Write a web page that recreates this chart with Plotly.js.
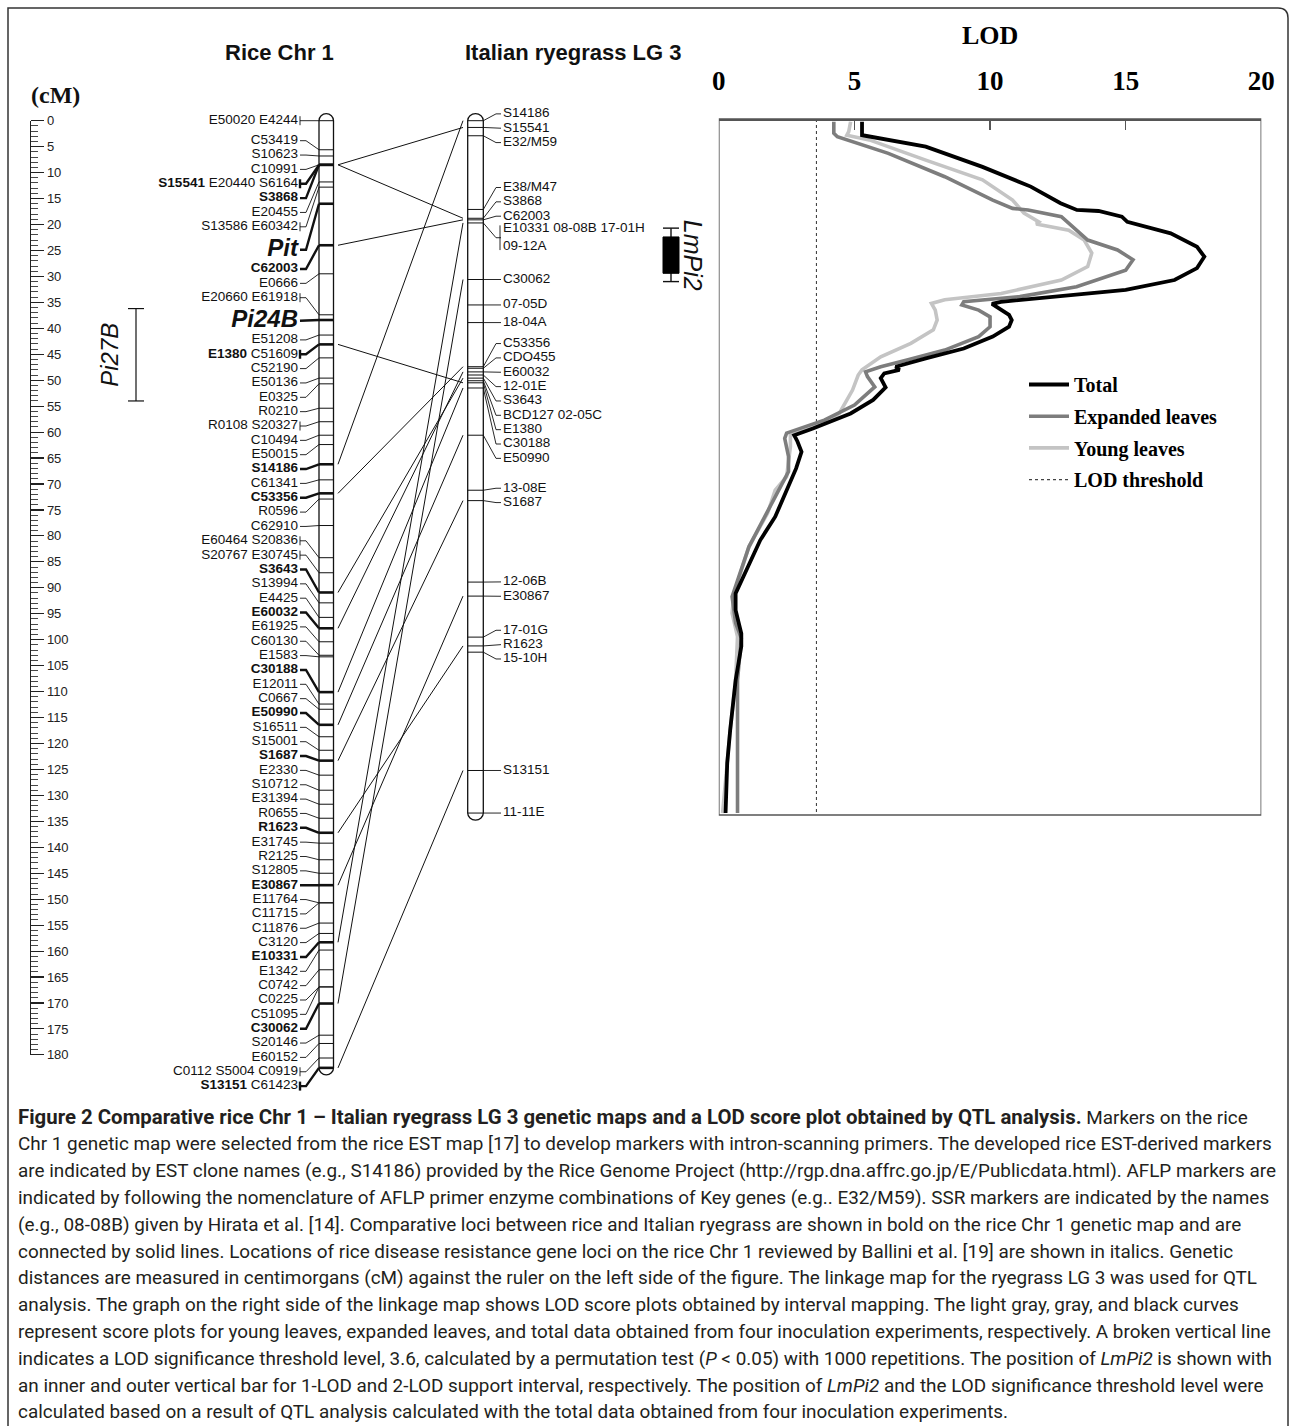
<!DOCTYPE html>
<html><head><meta charset="utf-8">
<script src="https://cdn.plot.ly/plotly-3.0.1.min.js"></script>
<style>html,body{margin:0;padding:0;background:#fff}</style>
</head><body><div id="chart" style="width:1290px;height:1426px"></div>
<script>
// ================= DATA =================
// Rice Chr 1 map: label rows (top to bottom) and marker positions (cM)
const riceLabels = ['E50020 E4244','C53419','S10623','C10991','S15541 E20440 S6164','S3868','E20455','S13586 E60342','Pit','C62003','E0666','E20660 E61918','Pi24B','E51208','E1380 C51609','C52190','E50136','E0325','R0210','R0108 S20327','C10494','E50015','S14186','C61341','C53356','R0596','C62910','E60464 S20836','S20767 E30745','S3643','S13994','E4425','E60032','E61925','C60130','E1583','C30188','E12011','C0667','E50990','S16511','S15001','S1687','E2330','S10712','E31394','R0655','R1623','E31745','R2125','S12805','E30867','E11764','C11715','C11876','C3120','E10331','E1342','C0742','C0225','C51095','C30062','S20146','E60152','C0112 S5004 C0919','S13151 C61423'];
const riceCM = [0,5.6,6.8,8.5,8.5,8.5,11.8,12.8,16.0,24.0,29.5,37.4,38.4,41.3,43.1,45.7,49.6,50.7,55.4,58.0,60.6,62.4,66.2,69.2,71.8,72.9,78.0,84.2,87.1,90.9,92.9,95.7,97.8,100.4,103.0,103.3,110.1,112.4,113.4,116.4,118.7,121.3,123.3,126.1,129.0,131.7,134.4,137.2,139.2,142.4,145.0,147.3,150.7,150.7,154.6,156.6,158.3,159.8,163.6,166.9,166.9,170.1,176.2,177.8,180.6,182.5];
const riceGenes = ['Pit','Pi24B'];
// Italian ryegrass LG 3 map
const ryeLabels = ['S14186','S15541','E32/M59','E38/M47','S3868','C62003','E10331 08-08B 17-01H 09-12A','C30062','07-05D','18-04A','C53356','CDO455','E60032','12-01E','S3643','BCD127 02-05C','E1380','C30188','E50990','13-08E','S1687','12-06B','E30867','17-01G','R1623','15-10H','S13151','11-11E'];
const ryeCM = [0,1.3,2.9,17.1,18.8,19.1,19.7,30.6,35.5,38.9,47.4,47.7,48.4,49.0,49.6,50.1,50.5,51.5,60.6,71.2,73.2,88.9,91.6,99.5,101.2,102.4,125.2,133.4];
// comparative loci (bold on rice map, joined by lines)
const compNames = ['S15541','S3868','C62003','E1380','S14186','C53356','S3643','E60032','C30188','E50990','S1687','R1623','E30867','E10331','C30062','S13151'];
// intervals (cM)
const pi27bCM = [36.2, 54.0];
const lmpi2Outer = [20.7, 31.0];
const lmpi2Inner = [22.4, 29.4];
// LOD curves (position cM on LG 3, LOD)
const totalPos = [0.2,2.8,2.9,5.0,8.9,12.7,15.9,16.9,17.2,17.4,18.5,19.5,19.8,21.7,24.3,26.2,28.4,30.7,32.6,33.9,34.9,35.3,36.1,37.4,38.4,39.7,41.6,43.9,45.8,47.4,48.0,48.7,49.6,51.4,53.8,56.4,59.3,60.6,61.8,63.8,67.0,71.2,76.3,80.8,87.2,91.1,94.3,98.8,101.3,107.8,117.4,123.8,133.4];
const totalLod = [5.28,5.28,5.4,7.63,9.72,11.5,12.6,13.1,13.2,14.0,14.86,15.06,15.27,16.66,17.63,17.9,17.63,16.8,15.0,12.5,10.4,10.07,10.3,10.7,10.8,10.7,10.1,9.03,7.63,6.52,6.66,6.1,5.97,6.15,5.69,4.86,3.47,2.78,2.9,3.05,2.85,2.5,2.08,1.53,0.97,0.62,0.62,0.83,0.83,0.62,0.42,0.31,0.25];
const expPos = [0.2,2.4,3.1,6.3,10.8,15.3,16.9,17.2,18.5,21.1,23.0,24.9,26.8,28.8,32.0,33.9,34.9,35.5,36.5,37.8,39.7,41.6,44.2,46.1,47.4,48.4,49.3,51.3,54.8,57.7,60.2,61.2,64.7,67.6,72.4,82.1,91.7,96.8,99.7,107.8,127.0,133.4];
const expLod = [4.24,4.24,4.37,6.25,8.33,10.1,10.83,11.4,12.63,13.19,13.6,14.7,15.27,15.0,13.19,11.1,9.03,8.96,9.58,10.0,10.0,9.58,8.33,6.94,5.97,5.41,5.48,5.75,5.0,3.89,2.5,2.43,2.57,2.57,2.08,1.11,0.49,0.62,0.83,0.69,0.69,0.69];
const youngPos = [0.2,2.1,2.8,3.7,7.6,11.4,15.3,17.8,19.5,19.9,21.1,23.0,25.5,28.1,30.7,33.3,34.5,35.2,36.5,38.4,40.3,42.9,45.5,47.4,48.0,49.0,51.3,51.9,56.4,58.6,60.6,62.8,68.6,71.2,75.6,82.1,91.1,94.9,99.4,107.8,117.4,133.4];
const youngLod = [4.86,4.79,4.72,5.55,7.63,9.72,10.83,11.25,11.8,11.7,12.9,13.47,13.75,13.6,12.63,10.41,8.33,7.84,7.98,8.05,7.91,7.08,5.97,5.41,5.28,5.14,5.0,4.93,4.44,3.75,2.64,2.64,2.5,2.08,1.8,1.11,0.56,0.49,0.69,0.62,0.42,0.14];
const lodThreshold = 3.6;
const lodTicks = [0,5,10,15,20];
const seriesNames = ['Total','Expanded leaves','Young leaves','LOD threshold'];
const captionLines = [
 '<b><span style="font-size:20.4px">Figure 2 Comparative rice Chr 1 – Italian ryegrass LG 3 genetic maps and a LOD score plot obtained by QTL analysis.</span></b> Markers on the rice',
 'Chr 1 genetic map were selected from the rice EST map [17] to develop markers with intron-scanning primers. The developed rice EST-derived markers',
 'are indicated by EST clone names (e.g., S14186) provided by the Rice Genome Project (http://rgp.dna.affrc.go.jp/E/Publicdata.html). AFLP markers are',
 'indicated by following the nomenclature of AFLP primer enzyme combinations of Key genes (e.g.. E32/M59). SSR markers are indicated by the names',
 '(e.g., 08-08B) given by Hirata et al. [14]. Comparative loci between rice and Italian ryegrass are shown in bold on the rice Chr 1 genetic map and are',
 'connected by solid lines. Locations of rice disease resistance gene loci on the rice Chr 1 reviewed by Ballini et al. [19] are shown in italics. Genetic',
 'distances are measured in centimorgans (cM) against the ruler on the left side of the figure. The linkage map for the ryegrass LG 3 was used for QTL',
 'analysis. The graph on the right side of the linkage map shows LOD score plots obtained by interval mapping. The light gray, gray, and black curves',
 'represent score plots for young leaves, expanded leaves, and total data obtained from four inoculation experiments, respectively. A broken vertical line',
 'indicates a LOD significance threshold level, 3.6, calculated by a permutation test (<i>P</i> &lt; 0.05) with 1000 repetitions. The position of <i>LmPi2</i> is shown with',
 'an inner and outer vertical bar for 1-LOD and 2-LOD support interval, respectively. The position of <i>LmPi2</i> and the LOD significance threshold level were',
 'calculated based on a result of QTL analysis calculated with the total data obtained from four inoculation experiments.'
];

// ================= LAYOUT HELPERS =================
const W = 1290, H = 1426;
const PX0 = 120.7, PPC = 5.19;           // pixel of 0 cM, pixels per cM
const cm2px = c => PX0 + c * PPC;
const px2cm = p => (p - PX0) / PPC;
const PX = p => p / W, PY = p => 1 - p / H;
const STEP = 14.35;                      // label row height (px)
const SANS = 'Liberation Sans, Arial, sans-serif';
const SERIF = 'Liberation Serif, Times New Roman, serif';
const INK = '#111';

const RULER_X = 30;
const RICE_L = 319, RICE_R = 333.5, RICE_TXT = 298;
const COMP_X0 = 338, COMP_X1 = 463;
const RYE_L = 467.7, RYE_R = 483.3, RYE_TXT = 503;
const LOD_L = 718.8, LOD_R = 1261.3, BOX_TOP = 119, BOX_BOT = 815;
const CAP = 7 / PPC;

const traces = [];
const shapes = [];
const annotations = [];

function seg(store, x0, y0, x1, y1) { store.x.push(x0, x1, null); store.y.push(y0, y1, null); }
function lines(store, width, extra) {
  return Object.assign({type:'scatter', mode:'lines', x:store.x, y:store.y, line:{color:INK, width:width},
    hoverinfo:'skip', showlegend:false, cliponaxis:false}, extra || {});
}
function chromPath(xl, xr, top, bot) {
  const xc = (xl + xr) / 2, rx = (xr - xl) / 2, k = 0.5523;
  return `M ${xl},${top} L ${xl},${bot} C ${xl},${bot + k*CAP} ${xc - k*rx},${bot + CAP} ${xc},${bot + CAP} ` +
         `C ${xc + k*rx},${bot + CAP} ${xr},${bot + k*CAP} ${xr},${bot} L ${xr},${top} ` +
         `C ${xr},${top - k*CAP} ${xc + k*rx},${top - CAP} ${xc},${top - CAP} C ${xc - k*rx},${top - CAP} ${xl},${top - k*CAP} ${xl},${top} Z`;
}

// ================= RICE MAP =================
const bigSet = new Set(riceGenes);
const riceThick = riceLabels.map(l => bigSet.has(l) || l.split(' ').some(t => compNames.includes(t)));
const riceLabelY = [];
{
  let cur = cm2px(riceCM[0]);
  riceLabels.forEach((lab, i) => {
    if (i === 1) cur += 20;
    else if (i > 1) cur += STEP + (bigSet.has(riceLabels[i-1]) ? 4.85 : 0) + (bigSet.has(lab) ? 8.65 : 0);
    riceLabelY.push(px2cm(cur));
  });
}
shapes.push({type:'path', xref:'x', yref:'y', path:chromPath(RICE_L, RICE_R, Math.min(...riceCM), Math.max(...riceCM)),
  line:{color:INK, width:1.3}, fillcolor:'#fff', layer:'below'});
const rThin = {x:[],y:[]}, rThick = {x:[],y:[]}, rcThin = {x:[],y:[]}, rcThick = {x:[],y:[]};
riceLabels.forEach((lab, i) => {
  const s = riceThick[i] ? rThick : rThin, c = riceThick[i] ? rcThick : rcThin;
  seg(s, RICE_L, riceCM[i], RICE_R, riceCM[i]);
  const ly = riceLabelY[i];
  c.x.push(300, 306, RICE_L, null); c.y.push(ly, ly, riceCM[i], null);
  if (lab.indexOf(' ') > 0) seg(c, 300, ly - 4.5/PPC, 300, ly + 4.5/PPC);
});
traces.push(lines(rThin, 1), lines(rThick, 2.6), lines(rcThin, 0.9), lines(rcThick, 2.4));
const normIdx = riceLabels.map((l,i)=>i).filter(i => !bigSet.has(riceLabels[i]));
const geneIdx = riceLabels.map((l,i)=>i).filter(i => bigSet.has(riceLabels[i]));
traces.push({type:'scatter', mode:'text', x:normIdx.map(()=>RICE_TXT), y:normIdx.map(i=>riceLabelY[i]),
  text:normIdx.map(i => riceLabels[i].split(' ').map(t => compNames.includes(t) ? '<b>'+t+'</b>' : t).join(' ')),
  textposition:'middle left', textfont:{family:SANS, size:13.5, color:INK}, hoverinfo:'skip', showlegend:false, cliponaxis:false});
traces.push({type:'scatter', mode:'text', x:geneIdx.map(()=>RICE_TXT), y:geneIdx.map(i=>riceLabelY[i]),
  text:geneIdx.map(i => '<b><i>'+riceLabels[i]+'</i></b>'),
  textposition:'middle left', textfont:{family:SANS, size:24, color:INK}, hoverinfo:'skip', showlegend:false, cliponaxis:false});

// ================= RYEGRASS MAP =================
const ryeText = ryeLabels.map(l => { const t = l.split(' '); return t.length > 3 ? t.slice(0,3).join(' ') + '<br>' + t.slice(3).join(' ') : l; });
const ryeSlots = ryeText.map(t => t.split('<br>').length);
function spreadLabels(pos, slots, step) {
  const clusters = [];
  pos.forEach((p, i) => {
    const h = slots[i] * step, last = clusters[clusters.length - 1];
    if (last && p - h/2 < last.top + last.h) {
      last.idx.push(i); last.lo = Math.min(last.lo, p); last.hi = Math.max(last.hi, p); last.h += h;
      last.top = (last.lo + last.hi) / 2 - last.h / 2;
      const prev = clusters[clusters.length - 2];
      if (prev && last.top < prev.top + prev.h) last.top = prev.top + prev.h;
    } else clusters.push({idx:[i], lo:p, hi:p, h:h, top:p - h/2});
  });
  const out = [];
  clusters.forEach(c => { let y = c.top; c.idx.forEach(i => { const h = slots[i]*step; out[i] = y + h/2; y += h; }); });
  return out;
}
const ryeLabelY = spreadLabels(ryeCM, ryeSlots, STEP / PPC);
shapes.push({type:'path', xref:'x', yref:'y', path:chromPath(RYE_L, RYE_R, Math.min(...ryeCM), Math.max(...ryeCM)),
  line:{color:INK, width:1.3}, fillcolor:'#fff', layer:'below'});
const yl = {x:[],y:[]}, yc = {x:[],y:[]};
ryeLabels.forEach((l, i) => {
  seg(yl, RYE_L, ryeCM[i], RYE_R, ryeCM[i]);
  yc.x.push(RYE_R, 496, 501, null); yc.y.push(ryeCM[i], ryeLabelY[i], ryeLabelY[i], null);
  if (ryeSlots[i] > 1) seg(yc, 500, ryeLabelY[i] - (ryeSlots[i]*STEP/2 - 2)/PPC, 500, ryeLabelY[i] + (ryeSlots[i]*STEP/2 - 2)/PPC);
});
traces.push(lines(yl, 1), lines(yc, 0.9));
traces.push({type:'scatter', mode:'text', x:ryeText.map(()=>RYE_TXT), y:ryeLabelY, text:ryeText,
  textposition:'middle right', textfont:{family:SANS, size:13.5, color:INK}, hoverinfo:'skip', showlegend:false, cliponaxis:false});

// ================= COMPARATIVE LINES =================
const cl = {x:[],y:[]};
compNames.forEach(n => {
  const ri = riceLabels.findIndex(l => l.split(' ').includes(n));
  const yi = ryeLabels.findIndex(l => l.split(' ').includes(n));
  if (ri >= 0 && yi >= 0) seg(cl, COMP_X0, riceCM[ri], COMP_X1, ryeCM[yi]);
});
traces.push(lines(cl, 1));

// ================= Pi27B (on ruler axis) and LmPi2 =================
const PI_X = 136, LM_X = 671;
traces.push({type:'scatter', mode:'lines', xaxis:'x', yaxis:'y2',
  x:[PI_X-8, PI_X+8, null, PI_X, PI_X, null, PI_X-8, PI_X+8],
  y:[pi27bCM[0], pi27bCM[0], null, pi27bCM[0], pi27bCM[1], null, pi27bCM[1], pi27bCM[1]],
  line:{color:INK, width:1.2}, hoverinfo:'skip', showlegend:false, cliponaxis:false});
traces.push({type:'scatter', mode:'lines',
  x:[LM_X-8, LM_X+8, null, LM_X, LM_X, null, LM_X-8, LM_X+8],
  y:[lmpi2Outer[0], lmpi2Outer[0], null, lmpi2Outer[0], lmpi2Outer[1], null, lmpi2Outer[1], lmpi2Outer[1]],
  line:{color:INK, width:1.4}, hoverinfo:'skip', showlegend:false, cliponaxis:false});
traces.push({type:'scatter', mode:'lines', fill:'toself', fillcolor:'#000',
  x:[LM_X-8, LM_X+8, LM_X+8, LM_X-8, LM_X-8], y:[lmpi2Inner[0], lmpi2Inner[0], lmpi2Inner[1], lmpi2Inner[1], lmpi2Inner[0]],
  line:{color:'#000', width:1}, hoverinfo:'skip', showlegend:false, cliponaxis:false});

// ================= LOD PLOT =================
const lodTopCM = px2cm(BOX_TOP), lodBotCM = px2cm(BOX_BOT);
function lod(name, xs, ys, color, width, dash, rank) {
  return {type:'scatter', mode:'lines', name:name, xaxis:'x2', yaxis:'y', x:xs, y:ys,
    line:{color:color, width:width, dash:dash || 'solid'}, legendgroup:name, legendrank:rank,
    hoverinfo:'skip', cliponaxis:false};
}
traces.push(lod(seriesNames[3], [lodThreshold, lodThreshold], [lodTopCM, lodBotCM], '#444', 1.1, 'dot', 4));
traces.push(lod(seriesNames[2], youngLod, youngPos, '#c4c4c4', 3.6, null, 3));
traces.push(lod(seriesNames[1], expLod, expPos, '#7d7d7d', 3.6, null, 2));
traces.push(lod(seriesNames[0], totalLod, totalPos, '#000', 3.8, null, 1));
shapes.push({type:'rect', xref:'x2', yref:'y', x0:lodTicks[0], x1:lodTicks[lodTicks.length-1], y0:lodTopCM, y1:lodBotCM,
  line:{color:'#555', width:1.6}, fillcolor:'rgba(0,0,0,0)', layer:'above'});

// ================= FRAME =================
const r = 10;
shapes.push({type:'path', xref:'paper', yref:'paper',
  path:`M ${PX(8)},${PY(H)} L ${PX(8)},${PY(8)} L ${PX(1288-r)},${PY(8)} Q ${PX(1288)},${PY(8)} ${PX(1288)},${PY(8+r)} L ${PX(1288)},${PY(H)}`,
  line:{color:'#333', width:1.5}});

// ================= TEXT =================
function ann(text, x, y, font, extra) {
  annotations.push(Object.assign({xref:'paper', yref:'paper', x:PX(x), y:PY(y), text:text, showarrow:false,
    xanchor:'center', yanchor:'middle', font:font}, extra || {}));
}
ann('Rice Chr 1', 279, 53, {family:SANS, size:22, color:INK, weight:'bold'});
ann('Italian ryegrass LG 3', 573, 52, {family:SANS, size:22, color:INK, weight:'bold'});
ann('(cM)', 55, 95, {family:SERIF, size:24, color:INK, weight:'bold'});
ann('<i>Pi27B</i>', 110, cm2px((pi27bCM[0]+pi27bCM[1])/2), {family:SANS, size:24, color:INK}, {textangle:-90});
ann('<i>LmPi2</i>', 693, cm2px((lmpi2Outer[0]+lmpi2Outer[1])/2), {family:SANS, size:25, color:INK}, {textangle:90});
captionLines.forEach((t, i) => ann(t, 16, 1117 + i*26.8, {family:'Roboto, Open Sans, sans-serif', size:18.9, color:'#231f20'}, {xanchor:'left'}));

// ================= LAYOUT =================
const layout = {
  width:W, height:H, margin:{l:0, r:0, t:0, b:0}, paper_bgcolor:'#fff', plot_bgcolor:'rgba(0,0,0,0)',
  showlegend:true,
  xaxis:{domain:[0,1], range:[0, W], visible:false, fixedrange:true},
  yaxis:{domain:[0,1], range:[px2cm(H), px2cm(0)], visible:false, fixedrange:true},
  yaxis2:{domain:[PY(cm2px(180)), PY(cm2px(0))], range:[180, 0], anchor:'free', position:PX(RULER_X), side:'right',
    showline:true, linecolor:'#222', linewidth:1.3, ticks:'outside', ticklen:13, tickwidth:1.1, tickcolor:'#222',
    tick0:0, dtick:5, minor:{dtick:1, ticks:'outside', ticklen:7, tickwidth:0.9, tickcolor:'#333'},
    tickfont:{family:SANS, size:13, color:'#222'}, showgrid:false, zeroline:false, fixedrange:true},
  xaxis2:{domain:[PX(LOD_L), PX(LOD_R)], range:[lodTicks[0], lodTicks[lodTicks.length-1]], anchor:'free', position:PY(BOX_TOP), side:'top',
    showline:true, linecolor:'#555', linewidth:1.6, ticks:'inside', ticklen:9, tickwidth:1.5, tickcolor:'#555',
    tickvals:lodTicks, ticktext:lodTicks.map(String), ticklabelstandoff:18,
    tickfont:{family:SERIF, size:27, color:'#000', weight:'bold'}, showgrid:false, zeroline:false, fixedrange:true,
    title:{text:'LOD', font:{family:SERIF, size:26, color:'#000', weight:'bold'}, standoff:12}},
  legend:{x:PX(1024), y:PY(365), xanchor:'left', yanchor:'top', bgcolor:'rgba(0,0,0,0)', borderwidth:0,
    font:{family:SERIF, size:20, color:'#000', weight:'bold'}, itemwidth:40, tracegroupgap:2.7, traceorder:'grouped'},
  shapes:shapes, annotations:annotations
};
Plotly.newPlot('chart', traces, layout, {staticPlot:true, displayModeBar:false});
</script></body></html>
